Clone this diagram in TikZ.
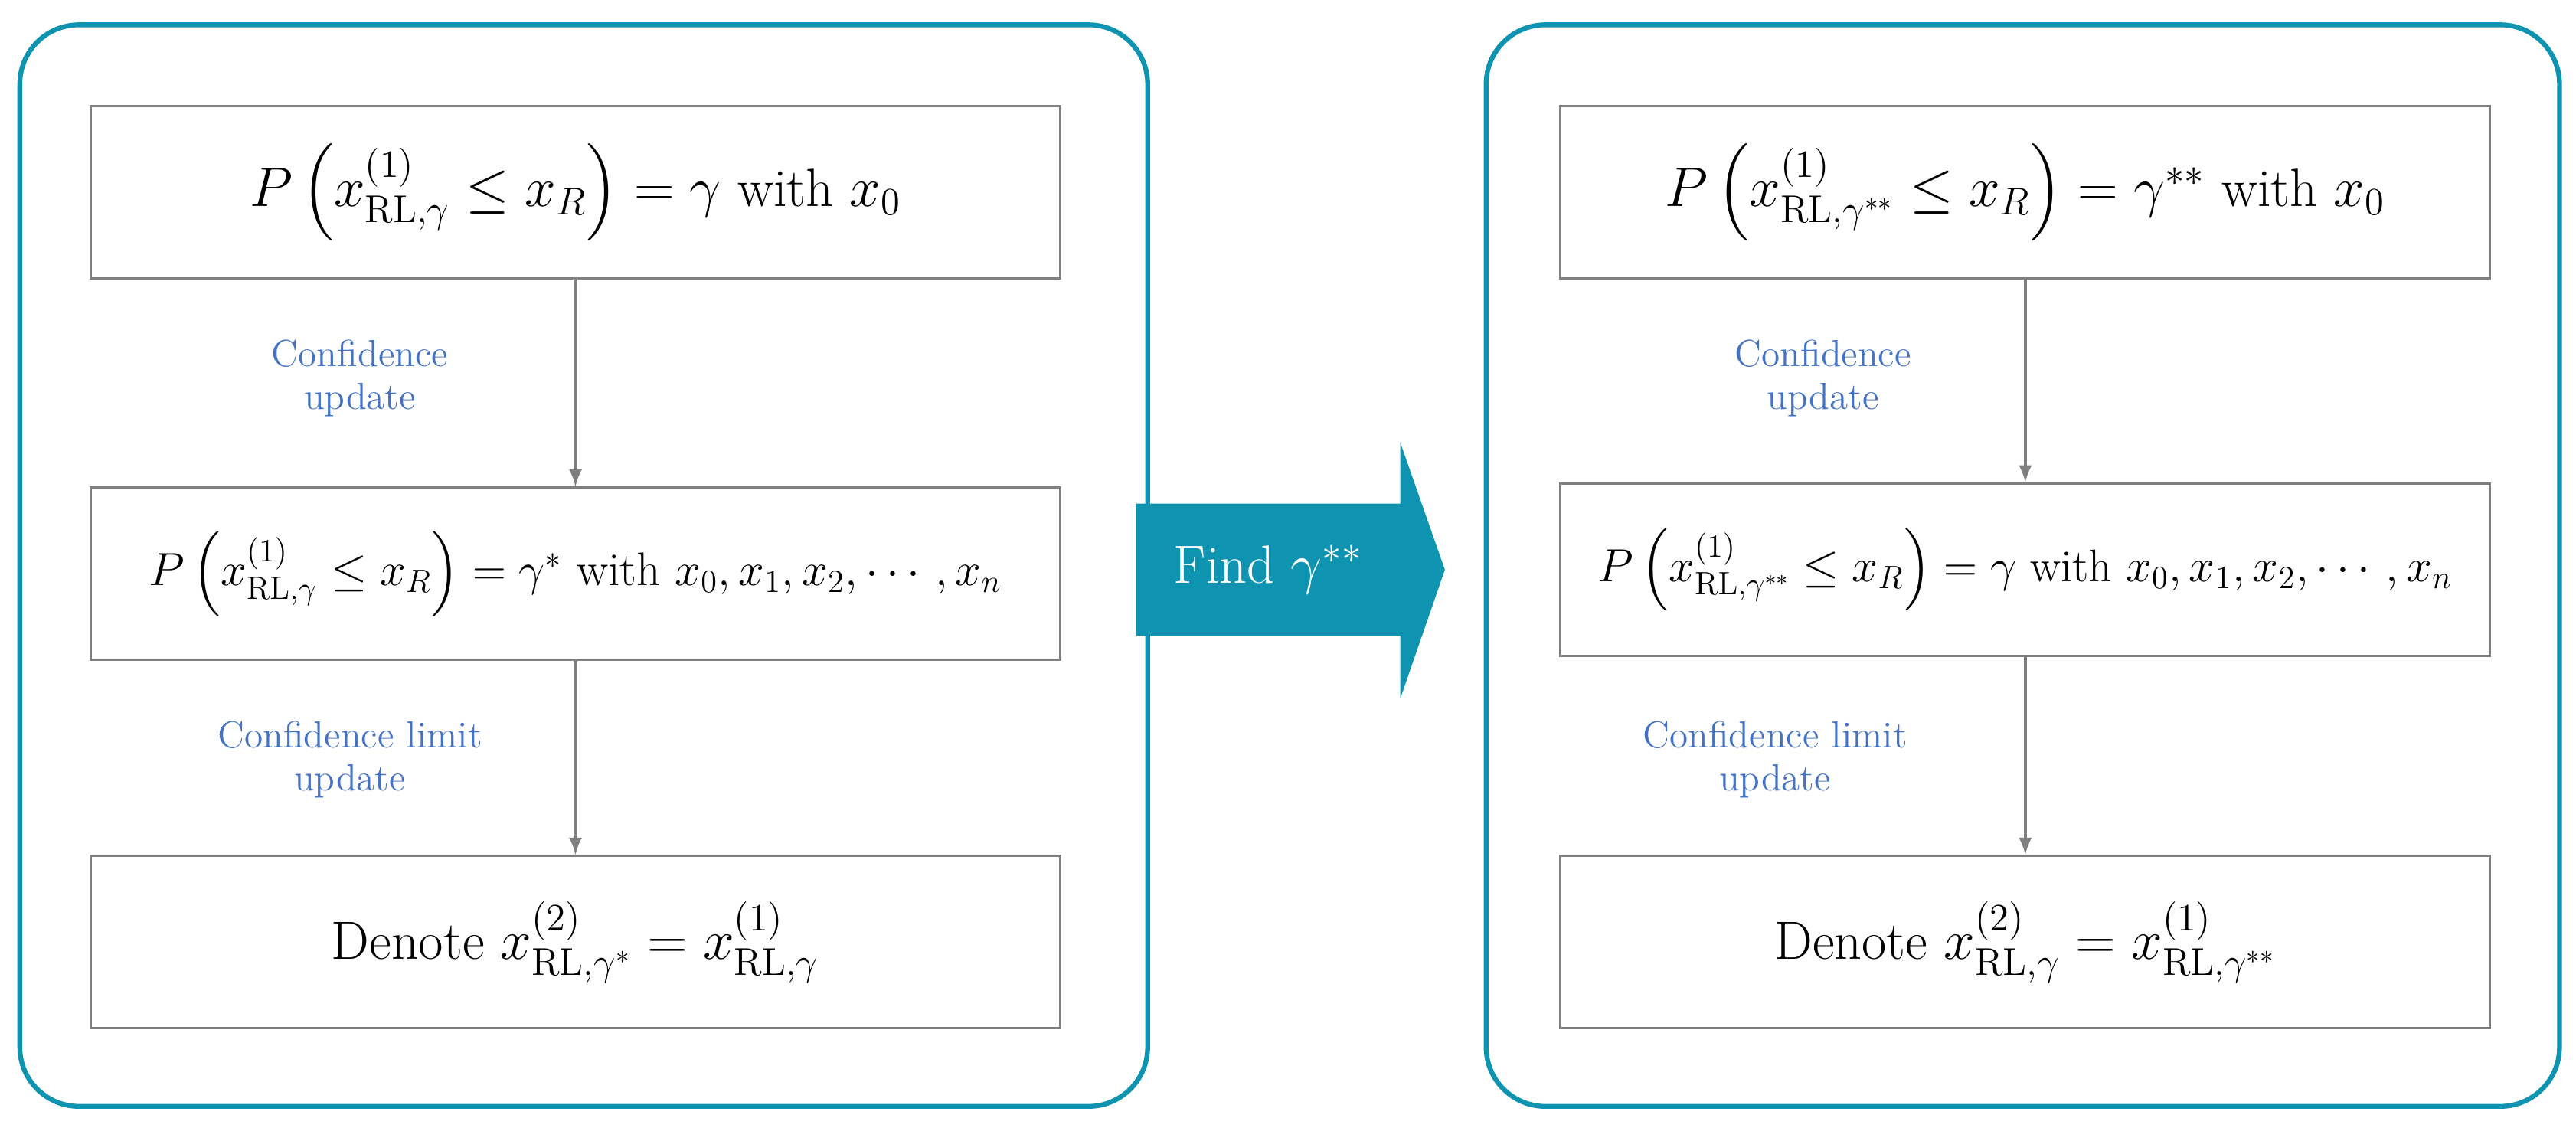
\documentclass[tikz,border=0pt]{standalone}
\usepackage{amsmath,amssymb}
\usepackage{tikz}
\usepackage{xcolor}
\usetikzlibrary{positioning}
\definecolor{myteal}{HTML}{0E93B0}
\definecolor{myblue}{HTML}{4472C4}
\definecolor{mygray}{HTML}{7F7F7F}
\tikzset{
  outer/.style={draw=myteal, line width=1.8pt, rounded corners=22pt},
  stepbox/.style={draw=mygray, line width=0.8pt, fill=white, minimum width=12.65cm, minimum height=2.25cm, inner sep=2pt, font=\fontsize{20}{24}\selectfont},
  lab/.style={text=myblue, align=center, font=\fontsize{14}{16}\selectfont},
  flow/.style={draw=mygray, line width=1.2pt, -latex}
}
\begin{document}
\begin{tikzpicture}[x=0.02156cm, y=-0.02156cm]
    \useasboundingbox (0,0) rectangle (1560,683);
    \draw[outer] (12,15) rectangle (695,670);
    \draw[outer] (900,15) rectangle (1550,670);
    % left column
    \node[stepbox] (l1) at (348.5,116.5) {$P\left(x^{(1)}_{\mathrm{RL},\gamma}\le x_R\right)=\gamma$ with $x_0$};
    \node[stepbox, font=\fontsize{17.5}{21}\selectfont] (l2) at (348.5,347.5) {$P\left(x^{(1)}_{\mathrm{RL},\gamma}\le x_R\right)=\gamma^{*}$ with $x_0,x_1,x_2,\cdots,x_n$};
    \node[stepbox] (l3) at (348.5,570.5) {Denote $x^{(2)}_{\mathrm{RL},\gamma^{*}}=x^{(1)}_{\mathrm{RL},\gamma}$};
    \draw[flow] (l1) -- (l2);
    \draw[flow] (l2) -- (l3);
    \node[lab] (t1) at (218,229) {Confidence\\update};
    \node[lab] (t2) at (212,460) {Confidence limit\\update};
    % big arrow
    \fill[myteal] (688,305) -- (848,305) -- (848,268) -- (875,345) -- (848,423) -- (848,385) -- (688,385) -- cycle;
    \node[text=white, font=\fontsize{20}{24}\selectfont] (find) at (768,345) {Find $\gamma^{**}$};
    % right column
    \node[stepbox, minimum width=12.14cm] (r1) at (1226.5,116.5) {$P\left(x^{(1)}_{\mathrm{RL},\gamma^{**}}\le x_R\right)=\gamma^{**}$ with $x_0$};
    \node[stepbox, minimum width=12.14cm, font=\fontsize{17}{21}\selectfont] (r2) at (1226.5,345) {$P\left(x^{(1)}_{\mathrm{RL},\gamma^{**}}\le x_R\right)=\gamma$ with $x_0,x_1,x_2,\cdots,x_n$};
    \node[stepbox, minimum width=12.14cm] (r3) at (1226.5,570.5) {Denote $x^{(2)}_{\mathrm{RL},\gamma}=x^{(1)}_{\mathrm{RL},\gamma^{**}}$};
    \draw[flow] (r1) -- (r2);
    \draw[flow] (r2) -- (r3);
    \node[lab] (t3) at (1104,229) {Confidence\\update};
    \node[lab] (t4) at (1075,460) {Confidence limit\\update};
\end{tikzpicture}
\end{document}
